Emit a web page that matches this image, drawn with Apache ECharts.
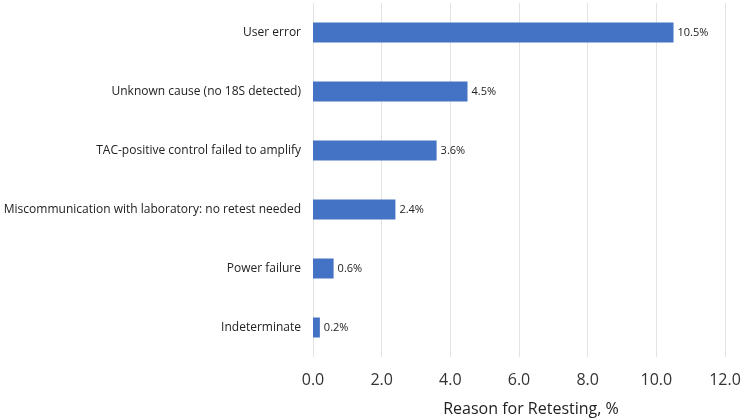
<!DOCTYPE html>
<html>
<head>
<meta charset="utf-8">
<script src="https://cdn.jsdelivr.net/npm/echarts@6/dist/echarts.min.js"></script>
<style>
  html, body { margin: 0; padding: 0; background: #fff; }
  #chart { width: 750px; height: 419px; }
</style>
</head>
<body>
<div id="chart"></div>
<script>
// categories, bottom to top as the category axis draws them
const categories = [
  "Indeterminate",
  "Power failure",
  "Miscommunication with laboratory: no retest needed",
  "TAC-positive control failed to amplify",
  "Unknown cause (no 18S detected)",
  "User error",
];
const values = [0.2, 0.6, 2.4, 3.6, 4.5, 10.5];
const xTicks = { min: 0, max: 12, interval: 2 };

const font = "'Open Sans', 'Noto Sans', sans-serif";
const chart = echarts.init(document.getElementById("chart"));

chart.setOption({
  animation: false,
  grid: { left: 313, right: 25, top: 3, bottom: 62, outerBoundsMode: "none" },
  xAxis: {
    type: "value",
    min: xTicks.min,
    max: xTicks.max,
    interval: xTicks.interval,
    name: "Reason for Retesting, %",
    nameLocation: "middle",
    nameGap: 44,
    nameTextStyle: { color: "#222", fontSize: 16, fontFamily: font, padding: [0, 0, 0, 24] },
    axisLine: { show: false },
    axisTick: { show: false },
    axisLabel: {
      color: "#333",
      fontSize: 16,
      fontFamily: font,
      margin: 15,
      formatter: (v) => v.toFixed(1),
    },
    splitLine: { lineStyle: { color: "#e3e3e3", width: 1 } },
  },
  yAxis: {
    type: "category",
    data: categories,
    axisLine: { show: false },
    axisTick: { show: false },
    axisLabel: { color: "#222", fontSize: 12, fontFamily: font, margin: 12 },
  },
  series: [
    {
      type: "bar",
      data: values,
      barWidth: 20,
      itemStyle: { color: "#4472c4" },
      label: {
        show: true,
        position: "right",
        distance: 4,
        color: "#222",
        fontSize: 11,
        fontFamily: font,
        formatter: (p) => p.value.toFixed(1) + "%",
      },
    },
  ],
});
</script>
</body>
</html>
